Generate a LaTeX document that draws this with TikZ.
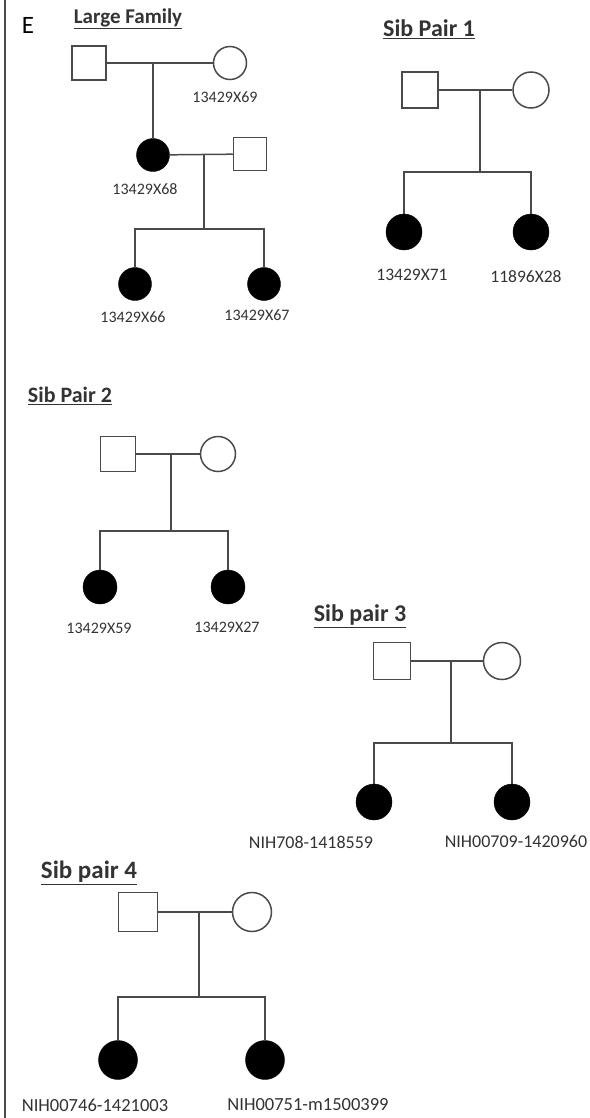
\documentclass[tikz,border=0pt]{standalone}
\usepackage{fontspec}
\setmainfont{Carlito}
\definecolor{linegray}{HTML}{4A4A4A}
\definecolor{textgray}{HTML}{333333}
\tikzset{
  male/.style={rectangle, draw=linegray, line width=1.5bp, minimum size=#1, inner sep=0pt, fill=white},
  female/.style={circle, draw=linegray, line width=1.5bp, minimum size=#1, inner sep=0pt, fill=white},
  affected/.style={circle, draw=black, fill=black, minimum size=#1, inner sep=0pt},
  link/.style={draw=linegray, line width=1.5bp},
  idlabel/.style={font=\fontsize{#1}{#1}\selectfont, text=textgray, inner sep=0pt},
  idlabel/.default=16bp,
  ptitle/.style={font=\bfseries\fontsize{#1}{#1}\selectfont, text=textgray, inner sep=0pt},
  ptitle/.default=22bp,
  border/.style={draw=linegray, line width=2bp}
}
\begin{document}
\begin{tikzpicture}[x=1bp,y=-1bp]
\useasboundingbox (0,0) rectangle (590,1118);
% left border
\coordinate (bt) at (4.5,0);
\coordinate (bb) at (4.5,1118);
\draw[border] (bt) -- (bb);
\node[font=\fontsize{25bp}{25bp}\selectfont, inner sep=0pt] (E) at (28,25) {E};

% ---------------- Large Family ----------------
\node[ptitle=21bp] (t0) at (128,19) {\underline{Large Family}};
\node[male=34bp] (lf1) at (89,63) {};
\node[female=33bp] (lm1) at (230,63) {};
\node[idlabel] (llm1) at (225,97) {13429X69};
\draw[link] (lf1) -- (lm1);
\coordinate (lc1) at (153,63);
\node[affected=33bp] (lf2) at (153,155) {};
\node[idlabel] (llf2) at (145,189) {13429X68};
\draw[link] (lc1) -- (lf2);
\node[male=33bp] (lh2) at (250,154) {};
\draw[link] (lf2) -- (lh2);
\coordinate (lc2) at (204,154);
\coordinate (ls2) at (204,229);
\draw[link] (lc2) -- (ls2);
\node[affected=33bp] (lk1) at (135,284) {};
\node[affected=33bp] (lk2) at (264,284) {};
\draw[link] (lk1.north) |- (ls2) -| (lk2.north);
\node[idlabel] (llk1) at (133,317) {13429X66};
\node[idlabel] (llk2) at (257,315) {13429X67};

% ---------------- Sib Pair 1 ----------------
\node[ptitle=24bp] (t1) at (429,29) {\underline{Sib Pair 1}};
\node[male=36bp] (af) at (420,90) {};
\node[female=36bp] (am) at (531,90) {};
\draw[link] (af) -- (am);
\coordinate (ac) at (480,90);
\coordinate (as) at (480,172);
\draw[link] (ac) -- (as);
\node[affected=36bp] (ak1) at (404,232) {};
\node[affected=36bp] (ak2) at (531,232) {};
\draw[link] (ak1.north) |- (as) -| (ak2.north);
\node[idlabel=17.5bp] (lak1) at (412,275) {13429X71};
\node[idlabel=17.5bp] (lak2) at (526,277) {11896X28};

% ---------------- Sib Pair 2 ----------------
\node[ptitle=22bp] (t2) at (70,396) {\underline{Sib Pair 2}};
\node[male=35bp] (bf) at (118,454) {};
\node[female=35bp] (bm) at (218,454) {};
\draw[link] (bf) -- (bm);
\coordinate (bc) at (171,454);
\coordinate (bs) at (171,531);
\draw[link] (bc) -- (bs);
\node[affected=34bp] (bk1) at (100,587) {};
\node[affected=34bp] (bk2) at (228,587) {};
\draw[link] (bk1.north) |- (bs) -| (bk2.north);
\node[idlabel] (lbk1) at (99,628) {13429X59};
\node[idlabel] (lbk2) at (227,627) {13429X27};

% ---------------- Sib pair 3 ----------------
\node[ptitle=24bp] (t3) at (360,616) {\underline{Sib pair 3}};
\node[male=37bp] (cf) at (392,661) {};
\node[female=37bp] (cm) at (502,661) {};
\draw[link] (cf) -- (cm);
\coordinate (cc) at (451,661);
\coordinate (cs) at (451,743);
\draw[link] (cc) -- (cs);
\node[affected=36bp] (ck1) at (374,802) {};
\node[affected=36bp] (ck2) at (512,802) {};
\draw[link] (ck1.north) |- (cs) -| (ck2.north);
\node[idlabel=18bp] (lck1) at (311,842) {NIH708-1418559};
\node[idlabel=18bp] (lck2) at (516,841) {NIH00709-1420960};

% ---------------- Sib pair 4 ----------------
\node[ptitle=25bp] (t4) at (89,873) {\underline{Sib pair 4}};
\node[male=39bp] (df) at (138,912) {};
\node[female=39bp] (dm) at (252,912) {};
\draw[link] (df) -- (dm);
\coordinate (dc) at (199,912);
\coordinate (ds) at (199,997);
\draw[link] (dc) -- (ds);
\node[affected=39bp] (dk1) at (118,1060) {};
\node[affected=39bp] (dk2) at (265,1060) {};
\draw[link] (dk1.north) |- (ds) -| (dk2.north);
\node[idlabel=18.5bp] (ldk1) at (95,1105) {NIH00746-1421003};
\node[idlabel=18.5bp] (ldk2) at (308,1105) {NIH00751-m1500399};
\end{tikzpicture}
\end{document}
